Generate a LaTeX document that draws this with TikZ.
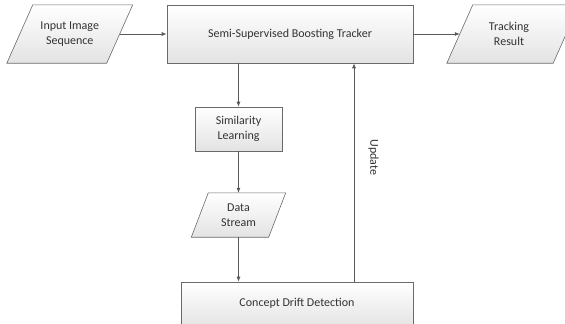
\documentclass[tikz,border=0pt]{standalone}
\usepackage{fontspec}
\setmainfont{Carlito}
\usetikzlibrary{arrows.meta,calc}
\definecolor{edge}{HTML}{6A6A6A}
\definecolor{txt}{HTML}{333333}
\begin{document}
\begin{tikzpicture}[x=1pt,y=-1pt,
  box/.style={draw=edge, line width=0.6pt, top color=white, bottom color=black!11, inner sep=0pt},
  lbl/.style={inner sep=0pt, text=txt, font=\fontsize{12}{14.5}\selectfont, align=center},
  para/.style={draw=edge, line width=0.6pt, top color=white, bottom color=black!11},
  conn/.style={draw=black!65, line width=0.7pt, -{Latex[length=5pt,width=4pt]}}]
\useasboundingbox (0,0) rectangle (565,324);
\clip (0,0) rectangle (565,324);
% Input Image Sequence (parallelogram)
\node[lbl, minimum width=99.5pt, minimum height=58pt] (in) at (69.75,34) {};
\path[para] ($(in.north west)+(13,0)$) -- ($(in.north east)+(13,0)$) -- ($(in.south east)+(-13,0)$) -- ($(in.south west)+(-13,0)$) -- cycle;
\node[lbl] at (in.center) {Input Image\\Sequence};
% Main tracker
\node[box, lbl, minimum width=246pt, minimum height=58pt] (main) at (290,34) {Semi-Supervised Boosting Tracker};
% Tracking Result
\node[lbl, minimum width=106pt, minimum height=58pt] (tr) at (513,34) {};
\path[para] ($(tr.north west)+(13,0)$) -- ($(tr.north east)+(13,0)$) -- ($(tr.south east)+(-13,0)$) -- ($(tr.south west)+(-13,0)$) -- cycle;
\node[lbl] at (509,34) {Tracking\\Result};
% Similarity Learning
\node[box, lbl, minimum width=87pt, minimum height=44pt] (sim) at (238.5,129) {Similarity\\Learning};
% Data Stream
\node[lbl, minimum width=77pt, minimum height=44pt] (ds) at (238.5,215) {};
\path[para] ($(ds.north west)+(8.5,0)$) -- ($(ds.north east)+(8.5,0)$) -- ($(ds.south east)+(-8.5,0)$) -- ($(ds.south west)+(-8.5,0)$) -- cycle;
\node[lbl] at (ds.center) {Data\\Stream};
% Concept Drift Detection
\node[box, minimum width=232pt, minimum height=46pt] (cdd) at (297,305) {};
\node[lbl] at (297,303) {Concept Drift Detection};
% connectors
\draw[conn] (in.east) -- (main.west);
\draw[conn] (main.east) -- (tr.west);
\draw[conn] (main.south -| sim.north) -- (sim.north);
\draw[conn] (sim.south) -- (ds.north);
\draw[conn] (ds.south) -- (ds.south |- cdd.north);
\coordinate (up) at (354,0);
\draw[conn] (up |- cdd.north) -- (up |- main.south) node[pos=0.57, right=14pt, lbl, rotate=-90, anchor=south] {Update};
\end{tikzpicture}
\end{document}
